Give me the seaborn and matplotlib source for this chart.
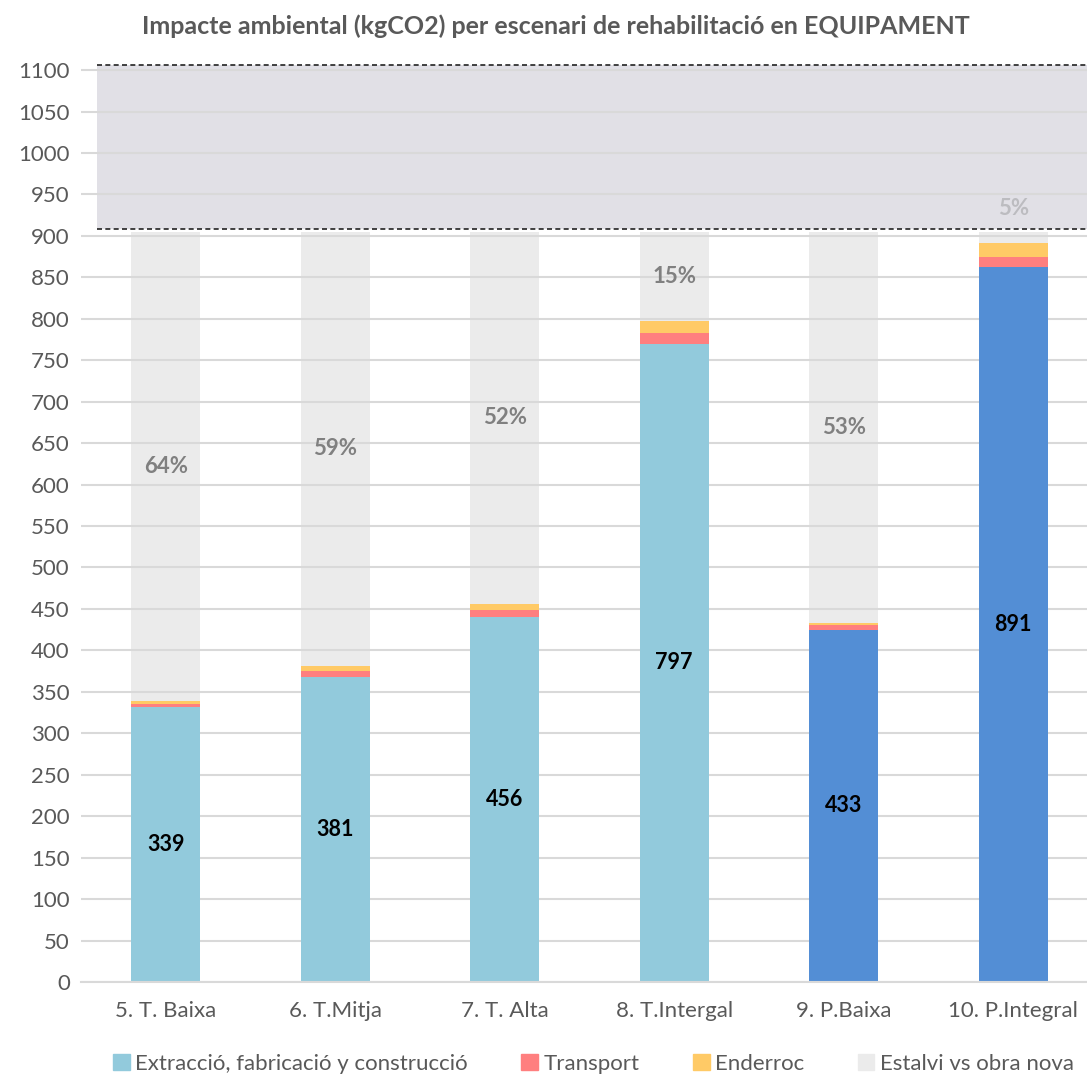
import numpy as np
import pandas as pd
import matplotlib
matplotlib.use("Agg")
import matplotlib.pyplot as plt
import seaborn as sns
from matplotlib.patches import Patch

# data
escenaris = ['5. T. Baixa', '6. T.Mitja', '7. T. Alta', '8. T.Intergal', '9. P.Baixa', '10. P.Integral']
extraccio = [332, 368, 440, 770, 425, 862]
transport = [3, 7, 9, 13, 6, 13]
enderroc = [4, 6, 7, 14, 2, 16]
totals = [339, 381, 456, 797, 433, 891]
estalvi_pct = ['64%', '59%', '52%', '15%', '53%', '5%']
obra_nova_sup = 905          # top of the "estalvi" bars
banda_obra_nova = (908, 1106)  # shaded range

col_ext = ['#92cadc', '#92cadc', '#92cadc', '#92cadc', '#538ed5', '#538ed5']
col_trans = '#ff7f7f'
col_end = '#ffca66'
col_estalvi = '#ebebeb'
col_text = '#595959'

sns.set_theme(style='white')
plt.rcParams['font.family'] = ['Lato', 'DejaVu Sans']

fig = plt.figure(figsize=(10.87, 10.75), dpi=100)
ax = fig.add_axes([81 / 1087, 93 / 1075, 1017 / 1087, 928.5 / 1075])

df = pd.DataFrame({'escenari': escenaris, 'ext': extraccio, 'trans': transport,
                   'end': enderroc, 'total': totals})
df['estalvi'] = obra_nova_sup - df['total']
w = 0.41

# estalvi bars (behind grid)
sns.barplot(data=df, x='escenari', y='estalvi', bottom=df['total'], color=col_estalvi,
            width=w, ax=ax, zorder=0.3, saturation=1, linewidth=0)
sns.barplot(data=df, x='escenari', y='ext', hue='escenari', palette=col_ext, legend=False,
            width=w, ax=ax, zorder=2, saturation=1, linewidth=0)
sns.barplot(data=df, x='escenari', y='trans', bottom=df['ext'], color=col_trans,
            width=w, ax=ax, zorder=2, saturation=1, linewidth=0)
sns.barplot(data=df, x='escenari', y='end', bottom=df['ext'] + df['trans'], color=col_end,
            width=w, ax=ax, zorder=2, saturation=1, linewidth=0)

# shaded band for new construction
x0 = -0.5 + 16 / 169.5
ax.fill_between([x0, 5.6], banda_obra_nova[0], banda_obra_nova[1], color='#e1e0e6',
                zorder=0.2, linewidth=0)
for yv in banda_obra_nova:
    ax.plot([x0, 5.6], [yv, yv], color='#222222', lw=1.2, ls=(0, (3, 2)), zorder=3)

# labels
for i in range(len(escenaris)):
    ax.text(i, extraccio[i] / 2, str(totals[i]), ha='center', va='center',
            fontsize=15.5, fontweight='bold', color='black', zorder=4)
    seg = obra_nova_sup - totals[i]
    if seg > 60:
        ax.text(i, totals[i] + seg / 2, estalvi_pct[i], ha='center', va='center',
                fontsize=16, fontweight='bold', color='#808080', zorder=4)
    else:
        ax.text(i, banda_obra_nova[0] + 25, estalvi_pct[i], ha='center', va='center',
                fontsize=16, fontweight='bold', color='#bcbcc0', zorder=4)

ax.set_xlim(-0.5, 5.5)
ax.set_ylim(0, 1120)
ax.set_yticks(np.arange(0, 1101, 50))
ax.yaxis.grid(True, color='#d9d9d9', lw=1.5)
ax.set_axisbelow(True)
ax.set_xlabel('')
ax.set_ylabel('')
for s in ['left', 'right', 'top']:
    ax.spines[s].set_visible(False)
ax.spines['bottom'].set_color('#d9d9d9')
ax.spines['bottom'].set_linewidth(1.5)
ax.tick_params(axis='y', length=0, labelsize=16, labelcolor=col_text, pad=8)
ax.tick_params(axis='x', which='major', length=0, labelsize=16, labelcolor=col_text, pad=14)
ax.set_xticks(np.arange(-0.5, 5.6, 1), minor=True)
ax.tick_params(axis='x', which='minor', length=6, color='#d9d9d9', width=1.5, direction='out')

fig.text(556 / 1087, 1 - 26 / 1075, 'Impacte ambiental (kgCO2) per escenari de rehabilitació en EQUIPAMENT',
         ha='center', va='center', fontsize=18, fontweight='bold', color=col_text)

handles = [Patch(color='#92cadc'), Patch(color=col_trans), Patch(color=col_end), Patch(color=col_estalvi)]
labels = ['Extracció, fabricació y construcció', 'Transport', 'Enderroc', 'Estalvi vs obra nova']
fig.legend(handles, labels, loc='center', bbox_to_anchor=(0.546, 1 - 1064 / 1075), ncol=4,
           frameon=False, fontsize=16, labelcolor=col_text, handlelength=0.75, handleheight=0.75,
           handletextpad=0.25, columnspacing=2.4)

fig.savefig('out.png', dpi=100)
